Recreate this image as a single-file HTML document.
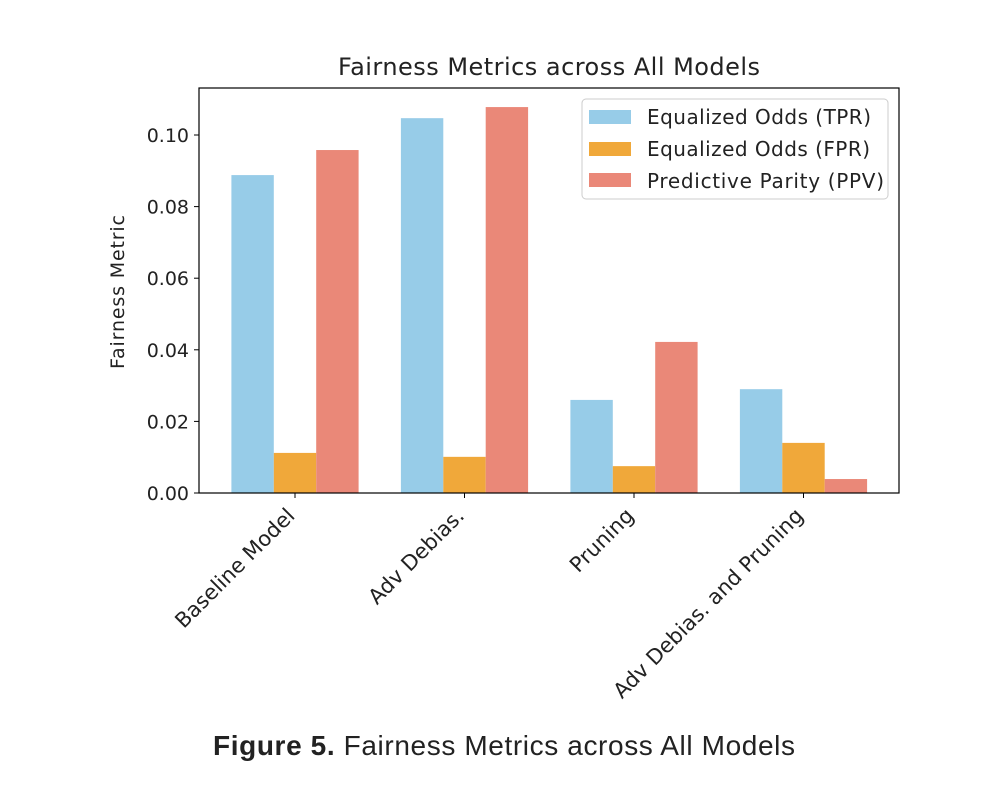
<!DOCTYPE html>
<html><head><meta charset="utf-8"><style>
body{margin:0;background:#fff;}
svg text{font-family:"DejaVu Sans","Liberation Sans",sans-serif;fill:#222;}
</style></head><body>
<svg width="1000" height="790">
<g id="plot"></g>
<text x="549" y="75" font-size="24" text-anchor="middle" textLength="422">Fairness Metrics across All Models</text>
<text transform="translate(124,292) rotate(-90)" font-size="19" text-anchor="middle" textLength="154">Fairness Metric</text>
<g>
<rect x="582" y="99" width="306" height="100" rx="4" fill="#fff" stroke="#ccc"/>
<rect x="589" y="110" width="42" height="14" fill="#97cce8"/>
<text x="647" y="124" font-size="20" textLength="224">Equalized Odds (TPR)</text>
<rect x="589" y="142" width="42" height="14" fill="#f0a83a"/>
<text x="647" y="156" font-size="20" textLength="223">Equalized Odds (FPR)</text>
<rect x="589" y="173" width="42" height="14" fill="#ea8878"/>
<text x="647" y="188" font-size="20" textLength="237">Predictive Parity (PPV)</text>
</g>
<text x="504" y="755" font-size="28" text-anchor="middle" style="font-family:'Liberation Sans',sans-serif" textLength="582"><tspan font-weight="bold">Figure 5.</tspan> Fairness Metrics across All Models</text>
</svg>
<script>
const categories=["Baseline Model","Adv Debias.","Pruning","Adv Debias. and Pruning"];
const tpr=[0.0888,0.1047,0.026,0.029];
const fpr=[0.0112,0.0101,0.0075,0.014];
const ppv=[0.0958,0.1078,0.0422,0.0039];
const yTicks=[0,0.02,0.04,0.06,0.08,0.10];
const yTickLabels=["0.00","0.02","0.04","0.06","0.08","0.10"];
const NS="http://www.w3.org/2000/svg";
const g=document.getElementById('plot');
const L=199,R=899,T=88,B=493;
const y=v=>B-v*3580;
const x=i=>295+i*169.5;
const bw=42.4;
function mk(t,a){const e=document.createElementNS(NS,t);for(const k in a)e.setAttribute(k,a[k]);g.appendChild(e);return e;}
const series=[[tpr,"#97cce8",-1,"tpr"],[fpr,"#f0a83a",0,"fpr"],[ppv,"#ea8878",1,"ppv"]];
series.forEach(([arr,col,off,nm])=>{arr.forEach((v,i)=>{
 const r=mk('rect',{x:x(i)+off*bw-bw/2,y:y(v),width:bw,height:B-y(v),fill:col});
 
 
});});
const ax=mk('rect',{x:L,y:T,width:R-L,height:B-T,fill:'none',stroke:'#000','stroke-width':1.2});


yTicks.forEach((v,i)=>{
 const l=mk('line',{x1:L-5,x2:L,y1:y(v),y2:y(v),stroke:'#000'});
 
 
 const t=mk('text',{x:L-10,y:y(v)+7,'font-size':19,'text-anchor':'end'});
 t.textContent=yTickLabels[i];
 
 
});
categories.forEach((c,i)=>{
 const l=mk('line',{x1:x(i),x2:x(i),y1:B,y2:B+5,stroke:'#000'});
 
 
 const t=mk('text',{transform:`translate(${x(i)+1},${B+24}) rotate(-45)`,'font-size':21,'text-anchor':'end'});
 t.textContent=c;
 
 
});
</script>
</body></html>
